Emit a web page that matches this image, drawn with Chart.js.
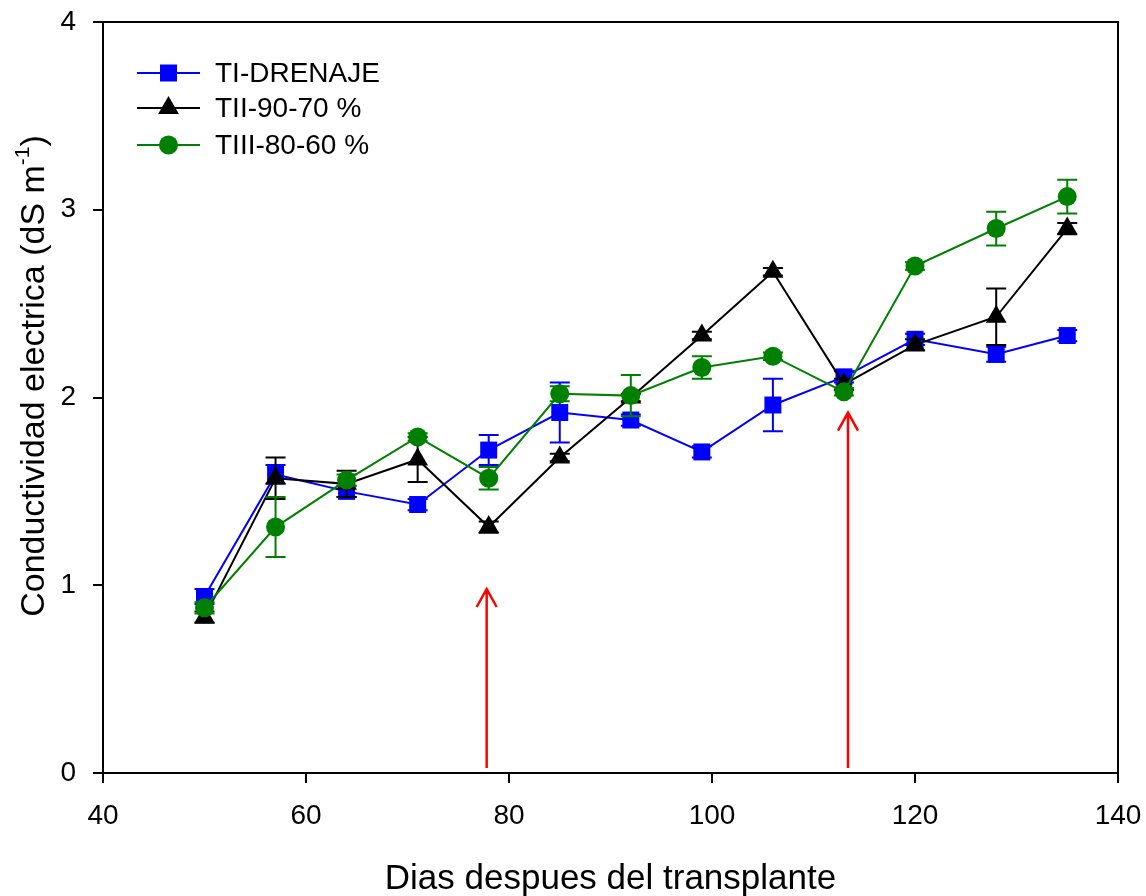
<!DOCTYPE html>
<html>
<head>
<meta charset="utf-8">
<script src="https://cdn.jsdelivr.net/npm/chart.js@4.4.0/dist/chart.umd.min.js"></script>
<style>
html,body{margin:0;padding:0;background:#fff;}
#wrap{width:1146px;height:896px;}
</style>
</head>
<body>
<div id="wrap"><canvas id="c" width="1146" height="896"></canvas></div>
<script>
// ---- data ----
const days = [50, 57, 64, 71, 78, 85, 92, 99, 106, 113, 120, 128, 135];
const tiDrenaje = [0.94, 1.59, 1.50, 1.43, 1.72, 1.92, 1.88, 1.71, 1.96, 2.11, 2.31, 2.23, 2.33];
const tiDrenajeErr = [0.04, 0.05, 0.03, 0.03, 0.08, 0.16, 0.03, 0.03, 0.14, 0.03, 0.03, 0.04, 0.03];
const tii9070 = [0.83, 1.57, 1.54, 1.67, 1.31, 1.68, 2.00, 2.33, 2.67, 2.07, 2.28, 2.43, 2.90];
const tii9070Err = [0.03, 0.11, 0.07, 0.12, 0.03, 0.02, 0.02, 0.02, 0.02, 0.03, 0.03, 0.15, 0.03];
const tiii8060 = [0.88, 1.31, 1.56, 1.79, 1.57, 2.02, 2.01, 2.16, 2.22, 2.03, 2.70, 2.90, 3.07];
const tiii8060Err = [0.03, 0.16, 0.03, 0.02, 0.06, 0.04, 0.11, 0.06, 0.02, 0.02, 0.02, 0.09, 0.09];
const seriesLabels = ['TI-DRENAJE', 'TII-90-70 %', 'TIII-80-60 %'];
const xTicks = [40, 60, 80, 100, 120, 140];
const yTicks = [0, 1, 2, 3, 4];
const arrowDays = [77.8, 113.4];
const arrowTops = [0.98, 1.92];
const xTitle = 'Dias despues del transplante';
const yTitleMain = 'Conductividad electrica (dS m';
const yTitleSup = '-1';
const yTitleEnd = ')';

const FONT = '"Liberation Sans", Arial, sans-serif';

function pts(vals){ return days.map((d,i)=>({x:d, y:vals[i]})); }

const errs = [tiDrenajeErr, tii9070Err, tiii8060Err];

const errorBarPlugin = {
  id: 'errbars',
  beforeDatasetDraw(chart, args){
    const i = args.index;
    const ds = chart.data.datasets[i];
    const e = errs[i];
    const xs = chart.scales.x, ys = chart.scales.y;
    const ctx = chart.ctx;
    ctx.save();
    ctx.strokeStyle = ds.borderColor;
    ctx.lineWidth = 2;
    ds.data.forEach((p, k) => {
      const px = xs.getPixelForValue(p.x);
      const top = ys.getPixelForValue(p.y + e[k]);
      const bot = ys.getPixelForValue(p.y - e[k]);
      ctx.beginPath();
      ctx.moveTo(px, top); ctx.lineTo(px, bot);
      ctx.moveTo(px - 10, top); ctx.lineTo(px + 10, top);
      ctx.moveTo(px - 10, bot); ctx.lineTo(px + 10, bot);
      ctx.stroke();
    });
    ctx.restore();
  }
};

const decoPlugin = {
  id: 'deco',
  afterDatasetsDraw(chart){
    const ctx = chart.ctx;
    const xs = chart.scales.x, ys = chart.scales.y;
    const a = chart.chartArea;
    ctx.save();
    // arrows
    ctx.strokeStyle = '#ff0000';
    ctx.lineWidth = 2.5;
    arrowDays.forEach((d, i) => {
      const px = xs.getPixelForValue(d);
      const tip = ys.getPixelForValue(arrowTops[i]);
      const base = ys.getPixelForValue(0) - 5;
      ctx.beginPath();
      ctx.moveTo(px, base); ctx.lineTo(px, tip);
      ctx.moveTo(px - 10, tip + 18); ctx.lineTo(px, tip); ctx.lineTo(px + 10, tip + 18);
      ctx.stroke();
    });
    // frame top & right
    ctx.strokeStyle = '#000';
    ctx.lineWidth = 2;
    ctx.beginPath();
    ctx.moveTo(a.left, a.top); ctx.lineTo(a.right, a.top); ctx.lineTo(a.right, a.bottom);
    ctx.stroke();
    // legend
    ctx.font = '28px ' + FONT;
    ctx.textBaseline = 'middle';
    ctx.textAlign = 'left';
    const rows = [73, 108, 145];
    [0,1,2].forEach(j => {
      const ds = chart.data.datasets[j];
      const y = rows[j];
      ctx.strokeStyle = ds.borderColor;
      ctx.lineWidth = 2;
      ctx.beginPath(); ctx.moveTo(137, y); ctx.lineTo(200, y); ctx.stroke();
      ctx.fillStyle = ds.backgroundColor;
      ctx.beginPath();
      if (ds.pointStyle === 'rect') { const s = ds.pointRadius*Math.SQRT1_2; ctx.rect(168.5-s, y-s, 2*s, 2*s); }
      else if (ds.pointStyle === 'circle') { ctx.arc(168.5, y, ds.pointRadius, 0, Math.PI*2); }
      else { const r = ds.pointRadius; ctx.moveTo(168.5, y - r); ctx.lineTo(168.5 + r*Math.sin(Math.PI/3), y + r/2); ctx.lineTo(168.5 - r*Math.sin(Math.PI/3), y + r/2); ctx.closePath(); }
      ctx.fill();
      ctx.fillStyle = '#000';
      ctx.fillText(seriesLabels[j], 215, y + 1);
    });
    // y title with superscript
    ctx.save();
    ctx.translate(35, 376);
    ctx.rotate(-Math.PI/2);
    ctx.fillStyle = '#000';
    ctx.textAlign = 'left';
    ctx.textBaseline = 'middle';
    const big = '34px ' + FONT, small = '21px ' + FONT;
    ctx.font = big; const w1 = ctx.measureText(yTitleMain).width; const w3 = ctx.measureText(yTitleEnd).width;
    ctx.font = small; const w2 = ctx.measureText(yTitleSup).width;
    const total = w1 + w2 + w3;
    let x0 = -total/2;
    ctx.font = big; ctx.fillText(yTitleMain, x0, 0);
    ctx.font = small; ctx.fillText(yTitleSup, x0 + w1, -12);
    ctx.font = big; ctx.fillText(yTitleEnd, x0 + w1 + w2, 0);
    ctx.restore();
    ctx.restore();
  }
};

const bgPlugin = {
  id: 'bg',
  beforeDraw(chart){ const c = chart.ctx; c.save(); c.fillStyle = '#fff'; c.fillRect(0,0,chart.width,chart.height); c.restore(); }
};

new Chart(document.getElementById('c'), {
  type: 'line',
  data: {
    datasets: [
      { label: seriesLabels[0], data: pts(tiDrenaje), borderColor: '#0000ff', backgroundColor: '#0000ff',
        pointStyle: 'rect', pointRadius: 12, pointBorderWidth: 0, borderWidth: 2, order: 2 },
      { label: seriesLabels[1], data: pts(tii9070), borderColor: '#000000', backgroundColor: '#000000',
        pointStyle: 'triangle', pointRadius: 12, pointBorderWidth: 0, borderWidth: 2, order: 1 },
      { label: seriesLabels[2], data: pts(tiii8060), borderColor: '#008000', backgroundColor: '#008000',
        pointStyle: 'circle', pointRadius: 9.5, pointBorderWidth: 0, borderWidth: 2, order: 0 }
    ]
  },
  options: {
    responsive: false,
    animation: false,
    layout: { padding: { left: 0, top: 22, right: 28, bottom: 0 } },
    plugins: { legend: { display: false }, tooltip: { enabled: false } },
    scales: {
      x: {
        type: 'linear', min: 40, max: 140,
        afterFit(s){ s.height = 123; s.paddingLeft = 0; s.paddingRight = 0; },
        afterBuildTicks(s){ s.ticks = xTicks.map(v => ({value: v})); },
        grid: { drawOnChartArea: false, drawTicks: true, tickLength: 10, color: '#000', lineWidth: 2 },
        border: { display: true, color: '#000', width: 2 },
        ticks: { color: '#000', font: { size: 28, family: FONT }, padding: 16, maxRotation: 0 },
        title: { display: true, text: xTitle, color: '#000', font: { size: 35, family: FONT }, padding: { top: 32, bottom: -4 } }
      },
      y: {
        type: 'linear', min: 0, max: 4,
        afterFit(s){ s.width = 103; s.paddingTop = 0; s.paddingBottom = 0; },
        afterBuildTicks(s){ s.ticks = yTicks.map(v => ({value: v})); },
        grid: { drawOnChartArea: false, drawTicks: true, tickLength: 10, color: '#000', lineWidth: 2 },
        border: { display: true, color: '#000', width: 2 },
        ticks: { color: '#000', font: { size: 28, family: FONT }, padding: 17 }
      }
    }
  },
  plugins: [bgPlugin, errorBarPlugin, decoPlugin]
});
</script>
</body>
</html>
